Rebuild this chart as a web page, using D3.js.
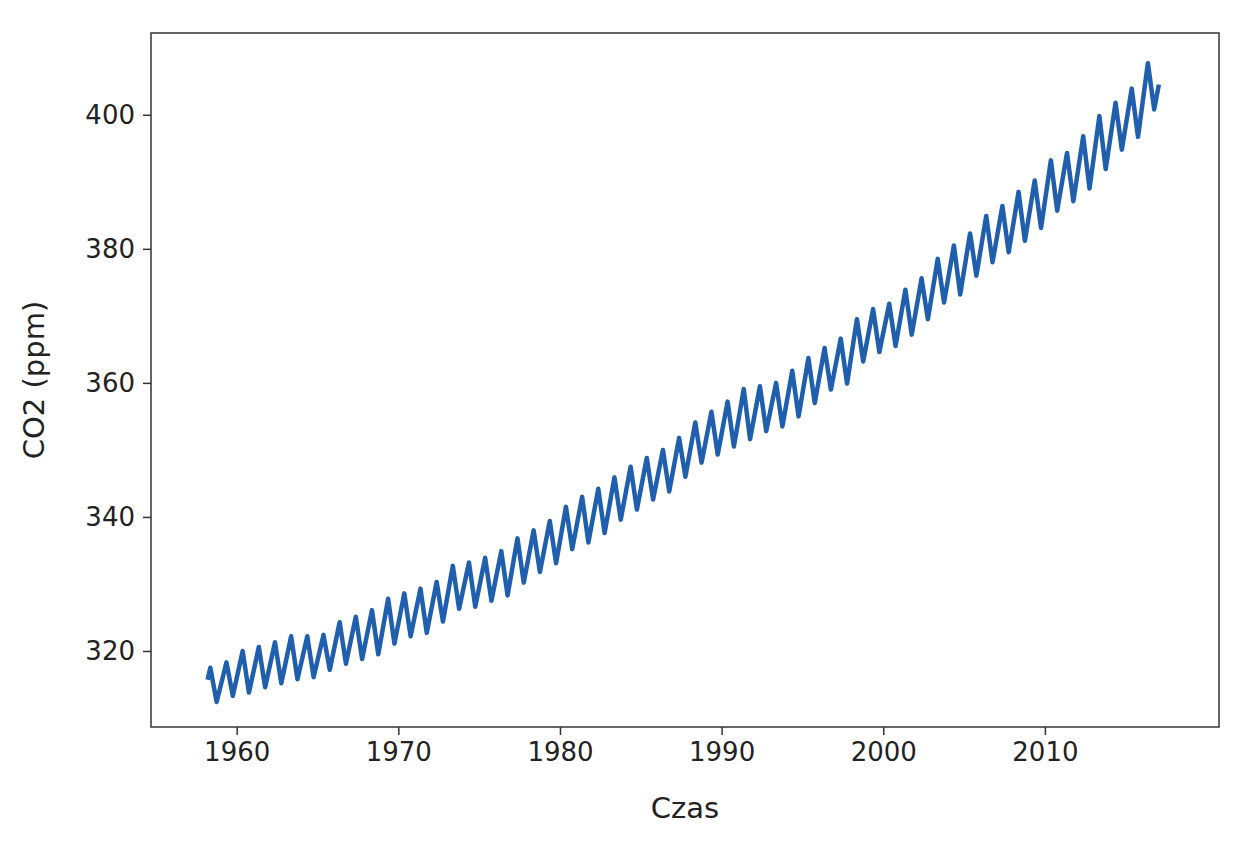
<!DOCTYPE html>
<html>
<head>
<meta charset="utf-8">
<script src="https://cdn.jsdelivr.net/npm/d3@7"></script>
<style>
body { margin: 0; background: #fff; }
text { font-family: "DejaVu Sans", sans-serif; fill: #222; }
</style>
</head>
<body>
<div id="chart"></div>
<script>
// Mauna Loa CO2, yearly spring peaks and autumn troughs (ppm)
var years = [1958,1959,1960,1961,1962,1963,1964,1965,1966,1967,1968,1969,1970,1971,1972,1973,1974,1975,1976,1977,1978,1979,1980,1981,1982,1983,1984,1985,1986,1987,1988,1989,1990,1991,1992,1993,1994,1995,1996,1997,1998,1999,2000,2001,2002,2003,2004,2005,2006,2007,2008,2009,2010,2011,2012,2013,2014,2015,2016];
var peaks = [317.5,318.3,320.0,320.6,321.3,322.2,322.2,322.4,324.3,325.1,326.1,327.8,328.6,329.3,330.3,332.7,333.2,333.9,334.9,336.8,338.0,339.4,341.5,343.0,344.2,345.9,347.5,348.8,350.0,351.8,354.1,355.7,357.2,359.1,359.5,360.0,361.8,363.7,365.2,366.6,369.5,371.0,371.8,373.9,375.6,378.5,380.5,382.3,384.9,386.4,388.5,390.2,393.2,394.3,396.8,399.8,401.8,403.9,407.7];
var troughs = [312.4,313.3,313.8,314.6,315.2,315.8,316.1,317.2,318.1,318.8,319.5,321.1,322.2,322.7,324.4,326.3,326.6,327.5,328.3,330.2,331.8,333.1,335.2,336.2,337.6,339.6,341.1,342.6,343.8,346.0,348.1,349.3,350.5,351.6,352.8,353.5,355.0,357.0,359.0,359.9,363.2,364.6,365.5,367.2,369.5,372.0,373.2,376.0,378.0,379.5,381.2,383.1,385.7,387.1,389.0,391.9,394.8,396.7,400.8];
var firstPoint = [1958.2, 315.7];
var lastPoint = [2017.05, 404.5];
var xTicks = [1960, 1970, 1980, 1990, 2000, 2010];
var yTicks = [320, 340, 360, 380, 400];

var pts = [firstPoint];
years.forEach(function(yr, i) {
  pts.push([yr + 0.37, peaks[i]]);
  pts.push([yr + 0.76, troughs[i]]);
});
pts.push(lastPoint);

var svg = d3.select('#chart').append('svg')
  .attr('width', 1249).attr('height', 848);

var mLeft = 151, mRight = 1219, mTop = 33, mBottom = 727;
var x = d3.scaleLinear().domain([1954.7, 2020.77]).range([mLeft, mRight]);
var y = d3.scaleLinear().domain([308.66, 412.2]).range([mBottom, mTop]);

svg.append('path')
  .datum(pts)
  .attr('fill', 'none')
  .attr('stroke', '#1f5fae')
  .attr('stroke-width', 4.5)
  .attr('stroke-linejoin', 'round')
  .attr('d', d3.line().x(d => x(d[0])).y(d => y(d[1])));

svg.append('rect')
  .attr('x', mLeft).attr('y', mTop)
  .attr('width', mRight - mLeft).attr('height', mBottom - mTop)
  .attr('fill', 'none').attr('stroke', '#333').attr('stroke-width', 1.5);

svg.append('g')
  .attr('transform', 'translate(0,' + mBottom + ')')
  .call(d3.axisBottom(x).tickValues(xTicks).tickFormat(d3.format('d')).tickSize(8).tickPadding(8))
  .call(g => g.select('.domain').remove())
  .call(g => g.selectAll('text').attr('font-size', 26).style('fill', '#222'))
  .call(g => g.selectAll('line').attr('stroke', '#333').attr('stroke-width', 1.5));

svg.append('g')
  .attr('transform', 'translate(' + mLeft + ',0)')
  .call(d3.axisLeft(y).tickValues(yTicks).tickSize(8).tickPadding(8))
  .call(g => g.select('.domain').remove())
  .call(g => g.selectAll('text').attr('font-size', 26).style('fill', '#222'))
  .call(g => g.selectAll('line').attr('stroke', '#333').attr('stroke-width', 1.5));

svg.append('text')
  .attr('x', (mLeft + mRight) / 2).attr('y', 818)
  .attr('text-anchor', 'middle').attr('font-size', 29)
  .text('Czas');

svg.append('text')
  .attr('transform', 'translate(44,' + ((mTop + mBottom) / 2) + ') rotate(-90)')
  .attr('text-anchor', 'middle').attr('font-size', 29)
  .text('CO2 (ppm)');
</script>
</body>
</html>
